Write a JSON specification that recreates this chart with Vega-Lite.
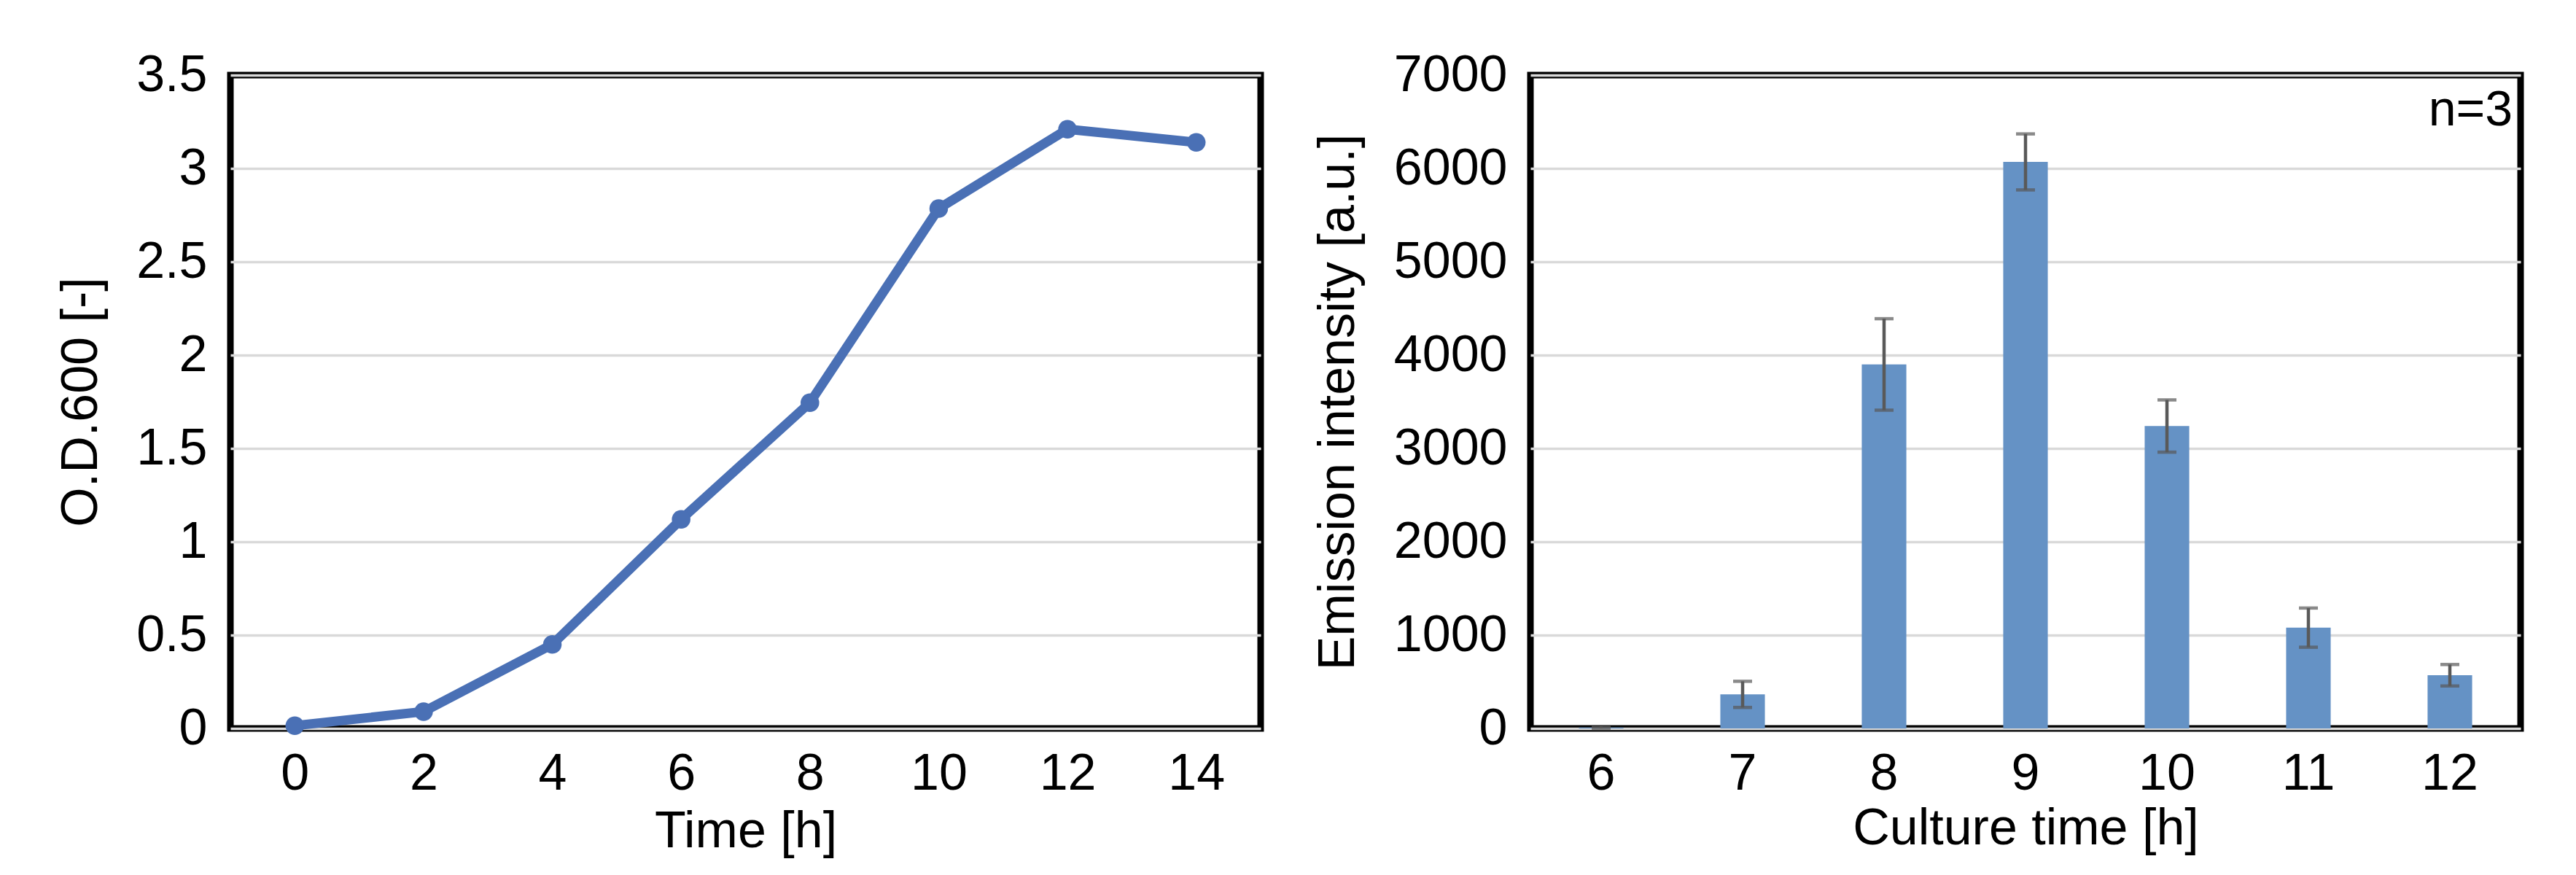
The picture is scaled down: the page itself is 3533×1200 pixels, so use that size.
{
  "$schema": "https://vega.github.io/schema/vega-lite/v6.json",
  "background": "white",
  "padding": {"left": 72, "top": 63, "right": 20, "bottom": 10},
  "spacing": 61,
  "config": {
    "font": "Liberation Sans",
    "view": {"stroke": "black", "strokeWidth": 9},
    "axis": {
      "labelFont": "Liberation Sans",
      "titleFont": "Liberation Sans",
      "labelFontSize": 70,
      "titleFontSize": 70,
      "labelColor": "black",
      "titleColor": "black",
      "titleFontWeight": "normal",
      "ticks": false,
      "domain": false,
      "gridColor": "#D9D9D9",
      "gridWidth": 3.5,
      "labelPadding": 32
    },
    "axisX": {"labelPadding": 28}
  },
  "hconcat": [
    {
      "width": 1413,
      "height": 896,
      "data": {"values": [
        {"time": 0, "od": 0.015},
        {"time": 2, "od": 0.09},
        {"time": 4, "od": 0.45},
        {"time": 6, "od": 1.12},
        {"time": 8, "od": 1.745},
        {"time": 10, "od": 2.785},
        {"time": 12, "od": 3.21},
        {"time": 14, "od": 3.14}
      ]},
      "mark": {"type": "line", "color": "#4A70B5", "strokeWidth": 13, "point": {"size": 650, "filled": true, "color": "#4A70B5"}},
      "encoding": {
        "x": {"field": "time", "type": "quantitative", "title": "Time [h]",
              "scale": {"domain": [-1, 15], "nice": false, "zero": false},
              "axis": {"values": [0, 2, 4, 6, 8, 10, 12, 14], "grid": false, "labelFlush": false, "titlePadding": 10}},
        "y": {"field": "od", "type": "quantitative", "title": "O.D.600 [-]",
              "scale": {"domain": [0, 3.5], "nice": false},
              "axis": {"values": [0, 0.5, 1, 1.5, 2, 2.5, 3, 3.5], "format": "~g", "titlePadding": 39}}
      }
    },
    {
      "width": 1358,
      "height": 896,
      "data": {"values": [
        {"time": 6, "mean": 10, "sd": 10},
        {"time": 7, "mean": 365, "sd": 140},
        {"time": 8, "mean": 3900, "sd": 490},
        {"time": 9, "mean": 6070, "sd": 300},
        {"time": 10, "mean": 3240, "sd": 280},
        {"time": 11, "mean": 1080, "sd": 210},
        {"time": 12, "mean": 570, "sd": 115}
      ]},
      "encoding": {
        "x": {"field": "time", "type": "ordinal", "title": "Culture time [h]",
              "scale": {"paddingInner": 0.685, "paddingOuter": 0.3425},
              "axis": {"labelAngle": 0, "grid": false, "titlePadding": 6}}
      },
      "layer": [
        {
          "mark": {"type": "bar", "color": "#6592C5"},
          "encoding": {
            "y": {"field": "mean", "type": "quantitative", "title": "Emission intensity [a.u.]",
                  "scale": {"domain": [0, 7000], "nice": false},
                  "axis": {"values": [0, 1000, 2000, 3000, 4000, 5000, 6000, 7000], "format": "d", "titlePadding": 40}}
          }
        },
        {
          "mark": {"type": "errorbar", "ticks": {"size": 26, "thickness": 4.5, "color": "#595959"}, "rule": {"strokeWidth": 4.5, "color": "#595959"}},
          "encoding": {
            "y": {"field": "mean", "type": "quantitative", "title": "Emission intensity [a.u.]"},
            "yError": {"field": "sd"}
          }
        },
        {
          "data": {"values": [{"label": "n=3"}]},
          "mark": {"type": "text", "fontSize": 68, "align": "right", "baseline": "middle", "dx": 86, "color": "black"},
          "encoding": {
            "x": {"datum": 12, "type": "ordinal"},
            "y": {"datum": 6620, "type": "quantitative"},
            "text": {"field": "label"}
          }
        }
      ]
    }
  ]
}
